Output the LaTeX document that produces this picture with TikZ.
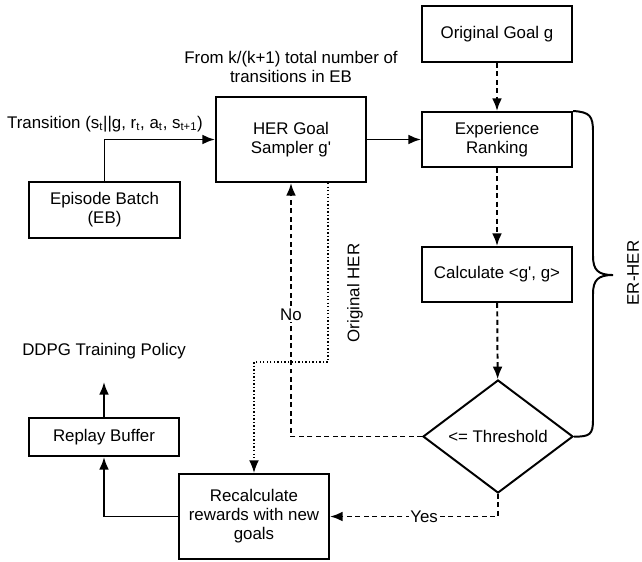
\documentclass[tikz,border=0pt]{standalone}
\usepackage{fontspec}
\setmainfont{Liberation Sans}
\usetikzlibrary{shapes.geometric, arrows.meta}
\tikzset{
	arrow/.style={draw, line width=1.4pt, -{Latex[length=9pt,width=7pt]}},
	dashline/.style={dash pattern=on 3.5pt off 2.5pt},
	dotline/.style={line width=1.2pt, dash pattern=on 1pt off 1.5pt},
	process/.style={rectangle, draw, line width=1.4pt, minimum width=3.75cm, align=center},
	decision/.style={diamond, draw, line width=1.4pt, aspect=1.33, minimum width=3.75cm, minimum height=2.825cm, inner sep=0pt}
}

\begin{document}
\begin{tikzpicture}[x=0.025cm, y=-0.025cm, font=\fontsize{12}{13.5}\selectfont]
	\useasboundingbox (0,0) rectangle (642,561);
	\node (goal) [process, minimum height=1.4cm] at (497,34) {Original Goal g};
	\node (rank) [process, minimum height=1.375cm] at (497,139.5) {Experience\\Ranking};
	\node (calc) [process, minimum height=1.375cm] at (497,274.5) {Calculate <g\textquotesingle, g>};
	\node (thres) [decision] at (498,436.5) {<= Threshold};
	\node (her) [process, minimum height=2.125cm] at (291,139.5) {HER Goal\\Sampler g\textquotesingle};
	\node (eb) [process, minimum height=1.4cm] at (104.5,210) {Episode Batch\\(EB)};
	\node (recalc) [process, minimum height=2.125cm] at (254,516.5) {Recalculate\\rewards with new\\goals};
	\node (buffer) [process, minimum height=0.95cm] at (104,437) {Replay Buffer};
	\node (ddpg) at (104,351) {DDPG Training Policy};
	\node (from) [align=center] at (291,67) {From k/(k+1) total number of\\transitions in EB};
	\node (trans) at (105,124) {Transition (s\textsubscript{t}||g, r\textsubscript{t}, a\textsubscript{t}, s\textsubscript{t+1})};
	\node (orig) [rotate=90] at (355,293) {Original HER};
	\node (erher) [rotate=90] at (633,273) {ER-HER};
	\coordinate (bend) at (254,362);
	\coordinate (out) at (104,382);

	\draw [arrow] (eb.north) |- (her.west);
	\draw [arrow] (her) -- (rank);
	\draw [arrow, dashline] (goal) -- (rank);
	\draw [arrow, dashline] (rank) -- (calc);
	\draw [arrow, dashline] (calc) -- (thres);
	\draw [arrow, dashline] (thres.west) -| (her.south) node[pos=0.74, fill=white, inner sep=1pt] {No};
	\draw [arrow, dashline] (thres.south) |- (recalc.east) node[pos=0.72, fill=white, inner sep=1pt] {Yes};
	\draw [arrow, dotline] ([xshift=0.925cm]her.south) |- (bend) -- (recalc.north);
	\draw [arrow] (recalc.west) -| (buffer.south);
	\draw [arrow] (buffer.north) -- (out);
	% brace round the ER-HER steps
	\draw [line width=1.4pt] (rank.north east) .. controls (590,112) and (593,116) .. (593,132) -- (593,256)
		.. controls (593,270) and (598,275) .. (613,275) .. controls (598,275) and (593,280) .. (593,294)
		-- (593,420) .. controls (593,434) and (590,437) .. (thres.east);
\end{tikzpicture}
\end{document}
